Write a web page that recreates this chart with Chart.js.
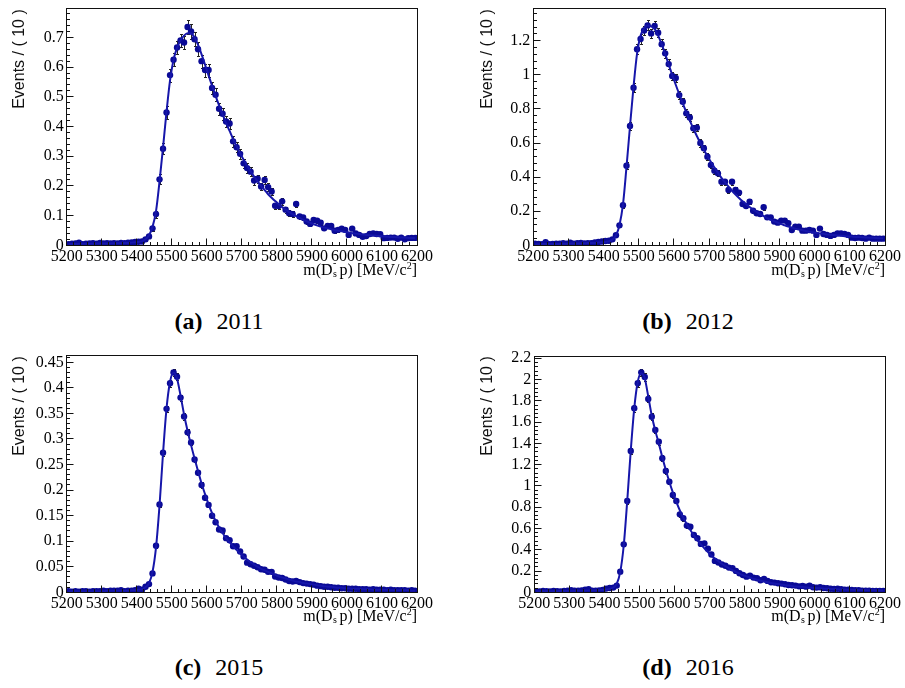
<!DOCTYPE html>
<html>
<head>
<meta charset="utf-8">
<script src="https://cdn.jsdelivr.net/npm/chart.js@4.4.1/dist/chart.umd.min.js"></script>
<style>
  body { margin: 0; background: #fff; }
  #page { position: relative; width: 905px; height: 688px; overflow: hidden; background: #fff; }
  canvas { position: absolute; }
  .ytitle { position: absolute; font: 16px "Liberation Sans", Arial, sans-serif; color: #111; white-space: nowrap;
            transform: translate(-50%, -50%) rotate(-90deg); }
  .xtitle { position: absolute; font: 16px "Liberation Serif", "Times New Roman", serif; line-height: 16px; color: #000;
            white-space: nowrap; transform: translateX(-100%); }
  .ss { position: relative; display: inline-block; width: 7px; height: 16px; }
  .ss span { position: absolute; left: 0.5px; font-size: 10px; line-height: 10px; }
  .ss .up { top: -1px; }
  .ss .dn { top: 10px; }
  .xtitle sup { font-size: 10px; vertical-align: 6px; line-height: 0; }
  .caption { position: absolute; font: 24px "Liberation Serif", "Times New Roman", serif; color: #000; white-space: nowrap;
             transform: translate(-50%, -50%); }
  .caption b { margin-right: 14px; }
</style>
</head>
<body>
<div id="page">
  <canvas id="cA" width="450" height="280" style="left:0;top:0"></canvas>
  <canvas id="cB" width="437" height="280" style="left:468px;top:0"></canvas>
  <canvas id="cC" width="450" height="280" style="left:0;top:345px"></canvas>
  <canvas id="cD" width="437" height="280" style="left:468px;top:345px"></canvas>

  <div class="ytitle" style="left:19px;top:59px">Events / ( 10 )</div>
  <div class="ytitle" style="left:487px;top:59px">Events / ( 10 )</div>
  <div class="ytitle" style="left:19px;top:406px">Events / ( 10 )</div>
  <div class="ytitle" style="left:487px;top:406px">Events / ( 10 )</div>

  <div class="xtitle" style="left:417px;top:259px">m(D<span class="ss"><span class="up">-</span><span class="dn">s</span></span>p) [MeV/c<sup>2</sup>]</div>
  <div class="xtitle" style="left:885px;top:259px">m(D<span class="ss"><span class="up">-</span><span class="dn">s</span></span>p) [MeV/c<sup>2</sup>]</div>
  <div class="xtitle" style="left:417px;top:605px">m(D<span class="ss"><span class="up">-</span><span class="dn">s</span></span>p) [MeV/c<sup>2</sup>]</div>
  <div class="xtitle" style="left:885px;top:605px">m(D<span class="ss"><span class="up">-</span><span class="dn">s</span></span>p) [MeV/c<sup>2</sup>]</div>

  <div class="caption" style="left:219px;top:321px"><b>(a)</b>2011</div>
  <div class="caption" style="left:688px;top:321px"><b>(b)</b>2012</div>
  <div class="caption" style="left:219px;top:667px"><b>(c)</b>2015</div>
  <div class="caption" style="left:688px;top:667px"><b>(d)</b>2016</div>
</div>

<script>
// bin centres, 10 MeV bins from 5200 to 6200
const binCenters = [
  5205,5215,5225,5235,5245,5255,5265,5275,5285,5295,
  5305,5315,5325,5335,5345,5355,5365,5375,5385,5395,
  5405,5415,5425,5435,5445,5455,5465,5475,5485,5495,
  5505,5515,5525,5535,5545,5555,5565,5575,5585,5595,
  5605,5615,5625,5635,5645,5655,5665,5675,5685,5695,
  5705,5715,5725,5735,5745,5755,5765,5775,5785,5795,
  5805,5815,5825,5835,5845,5855,5865,5875,5885,5895,
  5905,5915,5925,5935,5945,5955,5965,5975,5985,5995,
  6005,6015,6025,6035,6045,6055,6065,6075,6085,6095,
  6105,6115,6125,6135,6145,6155,6165,6175,6185,6195
];
const xTicks = [5200,5300,5400,5500,5600,5700,5800,5900,6000,6100,6200];

// (a) 2011
const data2011 = [
  0.004,0.005,0.006,0.009,0.004,0.005,0.006,0.007,0.005,0.008,
  0.006,0.007,0.006,0.007,0.006,0.008,0.007,0.009,0.010,0.011,
  0.012,0.013,0.020,0.030,0.057,0.105,0.222,0.325,0.447,0.573,
  0.625,0.666,0.690,0.683,0.735,0.720,0.694,0.660,0.620,0.590,
  0.590,0.530,0.507,0.460,0.443,0.417,0.410,0.350,0.330,0.308,
  0.276,0.260,0.248,0.218,0.224,0.198,0.220,0.196,0.181,0.133,
  0.132,0.148,0.120,0.108,0.105,0.139,0.097,0.094,0.080,0.072,
  0.085,0.083,0.076,0.057,0.065,0.065,0.049,0.052,0.056,0.052,
  0.035,0.056,0.040,0.035,0.029,0.031,0.038,0.040,0.038,0.037,
  0.024,0.025,0.026,0.026,0.022,0.026,0.020,0.024,0.025,0.025
];
const err2011 = [
  0.003,0.003,0.003,0.003,0.003,0.003,0.003,0.003,0.003,0.003,
  0.003,0.003,0.003,0.003,0.003,0.003,0.003,0.003,0.003,0.003,
  0.004,0.004,0.005,0.007,0.009,0.012,0.017,0.019,0.021,0.022,
  0.022,0.023,0.023,0.023,0.024,0.024,0.023,0.023,0.022,0.022,
  0.022,0.021,0.021,0.020,0.020,0.019,0.019,0.018,0.017,0.017,
  0.016,0.016,0.015,0.014,0.014,0.013,0.014,0.013,0.013,0.011,
  0.011,0.012,0.010,0.010,0.010,0.011,0.009,0.009,0.008,0.008,
  0.008,0.008,0.008,0.007,0.007,0.007,0.006,0.006,0.006,0.006,
  0.005,0.005,0.005,0.005,0.005,0.005,0.005,0.005,0.005,0.005,
  0.005,0.005,0.005,0.005,0.005,0.005,0.005,0.005,0.005,0.005
];
const fit2011 = [
  0.004,0.004,0.004,0.005,0.005,0.005,0.005,0.005,0.006,0.006,
  0.006,0.006,0.006,0.007,0.007,0.007,0.008,0.008,0.009,0.010,
  0.011,0.014,0.020,0.034,0.062,0.115,0.215,0.330,0.450,0.555,
  0.625,0.665,0.690,0.706,0.714,0.713,0.700,0.675,0.643,0.608,
  0.572,0.537,0.503,0.471,0.441,0.412,0.385,0.358,0.333,0.310,
  0.288,0.268,0.249,0.231,0.215,0.200,0.186,0.172,0.160,0.149,
  0.139,0.129,0.120,0.112,0.105,0.098,0.092,0.086,0.081,0.076,
  0.071,0.067,0.063,0.060,0.057,0.054,0.051,0.049,0.047,0.045,
  0.043,0.041,0.039,0.038,0.036,0.035,0.034,0.033,0.032,0.031,
  0.030,0.029,0.028,0.028,0.027,0.026,0.026,0.025,0.025,0.024
];
const yTicks2011 = [0,0.1,0.2,0.3,0.4,0.5,0.6,0.7];
const yLabels2011 = ['0','0.1','0.2','0.3','0.4','0.5','0.6','0.7'];

// (b) 2012
const data2012 = [
  0.010,0.008,0.006,0.018,0.007,0.008,0.010,0.009,0.012,0.010,
  0.015,0.010,0.012,0.014,0.011,0.013,0.012,0.016,0.020,0.022,
  0.025,0.027,0.035,0.059,0.117,0.235,0.467,0.700,0.924,1.150,
  1.210,1.260,1.290,1.243,1.286,1.247,1.180,1.126,1.063,0.993,
  0.981,0.881,0.842,0.774,0.750,0.686,0.690,0.600,0.569,0.520,
  0.471,0.438,0.422,0.373,0.373,0.324,0.373,0.324,0.309,0.242,
  0.230,0.256,0.203,0.188,0.184,0.223,0.164,0.164,0.139,0.133,
  0.145,0.145,0.129,0.090,0.109,0.109,0.086,0.086,0.090,0.086,
  0.061,0.098,0.066,0.061,0.055,0.061,0.070,0.070,0.066,0.061,
  0.045,0.043,0.045,0.043,0.039,0.045,0.039,0.039,0.039,0.039
];
const err2012 = [
  0.004,0.004,0.004,0.004,0.004,0.004,0.004,0.004,0.004,0.004,
  0.004,0.004,0.004,0.004,0.004,0.004,0.004,0.004,0.004,0.004,
  0.005,0.005,0.007,0.009,0.012,0.016,0.021,0.024,0.026,0.028,
  0.028,0.029,0.029,0.028,0.029,0.028,0.028,0.027,0.027,0.026,
  0.026,0.025,0.024,0.024,0.023,0.022,0.022,0.021,0.020,0.019,
  0.019,0.018,0.018,0.017,0.017,0.016,0.017,0.016,0.015,0.014,
  0.014,0.014,0.013,0.012,0.012,0.013,0.011,0.011,0.010,0.010,
  0.010,0.010,0.009,0.008,0.009,0.009,0.008,0.008,0.008,0.008,
  0.007,0.007,0.007,0.007,0.007,0.007,0.007,0.007,0.007,0.007,
  0.007,0.007,0.007,0.007,0.007,0.007,0.007,0.007,0.007,0.007
];
const fit2012 = [
  0.006,0.006,0.007,0.007,0.007,0.008,0.008,0.008,0.009,0.009,
  0.010,0.010,0.011,0.011,0.012,0.013,0.013,0.014,0.016,0.018,
  0.020,0.024,0.033,0.058,0.118,0.240,0.460,0.700,0.930,1.125,
  1.230,1.275,1.290,1.285,1.268,1.230,1.180,1.122,1.060,1.000,
  0.942,0.886,0.832,0.780,0.731,0.685,0.641,0.600,0.561,0.524,
  0.489,0.456,0.425,0.396,0.369,0.344,0.320,0.298,0.278,0.259,
  0.241,0.225,0.210,0.196,0.183,0.171,0.160,0.150,0.141,0.132,
  0.124,0.117,0.110,0.104,0.098,0.093,0.088,0.084,0.080,0.076,
  0.073,0.070,0.067,0.064,0.062,0.060,0.058,0.056,0.054,0.052,
  0.051,0.049,0.048,0.047,0.046,0.045,0.044,0.043,0.042,0.041
];
const yTicks2012 = [0,0.2,0.4,0.6,0.8,1,1.2];
const yLabels2012 = ['0','0.2','0.4','0.6','0.8','1','1.2'];

// (c) 2015
const data2015 = [
  0.002,0.001,0.002,0.001,0.002,0.002,0.001,0.002,0.002,0.002,
  0.003,0.002,0.003,0.003,0.003,0.004,0.002,0.003,0.003,0.004,
  0.007,0.005,0.011,0.016,0.037,0.091,0.172,0.273,0.359,0.409,
  0.430,0.422,0.381,0.344,0.313,0.293,0.260,0.234,0.210,0.185,
  0.171,0.150,0.137,0.123,0.121,0.106,0.102,0.090,0.090,0.080,
  0.070,0.058,0.055,0.052,0.049,0.045,0.044,0.040,0.040,0.031,
  0.029,0.028,0.025,0.022,0.021,0.022,0.020,0.018,0.017,0.016,
  0.015,0.013,0.012,0.011,0.011,0.010,0.009,0.009,0.008,0.008,
  0.007,0.007,0.007,0.006,0.006,0.006,0.005,0.006,0.005,0.005,
  0.005,0.004,0.005,0.004,0.004,0.004,0.004,0.003,0.004,0.003
];
const err2015 = [
  0.001,0.001,0.001,0.001,0.001,0.001,0.001,0.001,0.001,0.001,
  0.001,0.001,0.001,0.001,0.001,0.001,0.001,0.001,0.001,0.001,
  0.001,0.001,0.002,0.002,0.003,0.004,0.005,0.006,0.006,0.007,
  0.007,0.007,0.006,0.006,0.006,0.005,0.005,0.005,0.005,0.004,
  0.004,0.004,0.004,0.004,0.004,0.003,0.003,0.003,0.003,0.003,
  0.003,0.003,0.002,0.002,0.002,0.002,0.002,0.002,0.002,0.002,
  0.002,0.002,0.002,0.002,0.002,0.002,0.002,0.002,0.002,0.002,
  0.001,0.001,0.001,0.001,0.001,0.001,0.001,0.001,0.001,0.001,
  0.001,0.001,0.001,0.001,0.001,0.001,0.001,0.001,0.001,0.001,
  0.001,0.001,0.001,0.001,0.001,0.001,0.001,0.001,0.001,0.001
];
const fit2015 = [
  0.002,0.002,0.002,0.002,0.002,0.002,0.002,0.002,0.002,0.002,
  0.002,0.003,0.003,0.003,0.003,0.003,0.003,0.003,0.004,0.004,
  0.005,0.006,0.010,0.018,0.040,0.088,0.170,0.272,0.360,0.412,
  0.430,0.418,0.385,0.348,0.316,0.288,0.262,0.237,0.213,0.192,
  0.172,0.155,0.140,0.127,0.116,0.106,0.098,0.090,0.083,0.076,
  0.070,0.064,0.059,0.054,0.050,0.046,0.043,0.040,0.037,0.034,
  0.031,0.029,0.027,0.025,0.023,0.021,0.020,0.018,0.017,0.016,
  0.015,0.014,0.013,0.012,0.011,0.011,0.010,0.009,0.009,0.008,
  0.008,0.007,0.007,0.007,0.006,0.006,0.006,0.005,0.005,0.005,
  0.005,0.005,0.004,0.004,0.004,0.004,0.004,0.004,0.003,0.003
];
const yTicks2015 = [0,0.05,0.1,0.15,0.2,0.25,0.3,0.35,0.4,0.45];
const yLabels2015 = ['0','0.05','0.1','0.15','0.2','0.25','0.3','0.35','0.4','0.45'];

// (d) 2016
const data2016 = [
  0.010,0.008,0.012,0.010,0.008,0.012,0.010,0.008,0.012,0.015,
  0.020,0.014,0.016,0.018,0.025,0.028,0.015,0.016,0.018,0.022,
  0.035,0.040,0.044,0.063,0.194,0.451,0.859,1.329,1.730,1.965,
  2.068,2.024,1.818,1.650,1.526,1.416,1.260,1.141,1.040,0.915,
  0.859,0.733,0.696,0.627,0.617,0.539,0.508,0.455,0.460,0.410,
  0.355,0.295,0.280,0.262,0.250,0.232,0.226,0.201,0.179,0.163,
  0.147,0.157,0.138,0.132,0.113,0.125,0.107,0.094,0.091,0.085,
  0.082,0.075,0.069,0.066,0.063,0.056,0.060,0.053,0.063,0.047,
  0.044,0.047,0.041,0.038,0.034,0.031,0.034,0.028,0.025,0.025,
  0.022,0.019,0.019,0.016,0.016,0.016,0.013,0.013,0.013,0.013
];
const err2016 = [
  0.004,0.004,0.004,0.004,0.004,0.004,0.004,0.004,0.004,0.004,
  0.004,0.004,0.004,0.004,0.004,0.004,0.004,0.004,0.004,0.004,
  0.005,0.006,0.006,0.008,0.013,0.019,0.026,0.031,0.034,0.035,
  0.036,0.035,0.033,0.032,0.031,0.029,0.028,0.026,0.025,0.024,
  0.023,0.021,0.021,0.020,0.019,0.018,0.017,0.016,0.016,0.015,
  0.014,0.013,0.012,0.012,0.012,0.011,0.011,0.010,0.010,0.009,
  0.009,0.009,0.008,0.008,0.008,0.008,0.007,0.007,0.007,0.007,
  0.006,0.006,0.006,0.006,0.006,0.006,0.006,0.006,0.006,0.006,
  0.005,0.005,0.005,0.005,0.005,0.005,0.005,0.005,0.005,0.005,
  0.005,0.005,0.005,0.005,0.005,0.005,0.005,0.005,0.005,0.005
];
const fit2016 = [
  0.010,0.010,0.010,0.010,0.011,0.011,0.011,0.012,0.012,0.012,
  0.013,0.013,0.014,0.014,0.015,0.016,0.017,0.018,0.020,0.022,
  0.026,0.032,0.045,0.080,0.190,0.440,0.860,1.330,1.730,1.980,
  2.060,2.010,1.840,1.660,1.520,1.400,1.270,1.150,1.040,0.940,
  0.850,0.770,0.700,0.640,0.585,0.535,0.490,0.450,0.413,0.378,
  0.347,0.318,0.292,0.268,0.246,0.226,0.208,0.191,0.176,0.162,
  0.150,0.138,0.128,0.118,0.110,0.102,0.095,0.088,0.082,0.077,
  0.072,0.067,0.063,0.059,0.055,0.052,0.049,0.046,0.043,0.041,
  0.039,0.037,0.035,0.033,0.031,0.030,0.028,0.027,0.026,0.025,
  0.024,0.023,0.022,0.021,0.020,0.020,0.019,0.018,0.018,0.017
];
const yTicks2016 = [0,0.2,0.4,0.6,0.8,1,1.2,1.4,1.6,1.8,2,2.2];
const yLabels2016 = ['0','0.2','0.4','0.6','0.8','1','1.2','1.4','1.6','1.8','2','2.2'];

const markerColor = '#0a0a96';
const curveColor = '#1616aa';
const serif = "'Liberation Serif', 'Times New Roman', serif";

// ROOT style: frame box plus inward tick marks
const frameTicks = {
  id: 'frameTicks',
  afterDraw(chart, args, opts) {
    const {ctx, chartArea: a, scales: {x, y}} = chart;
    const L = Math.floor(a.left) + 0.5, R = Math.floor(a.right) + 0.5;
    const T = Math.floor(a.top) + 0.5, B = Math.floor(a.bottom) + 0.5;
    ctx.save();
    ctx.strokeStyle = '#111';
    ctx.lineWidth = 1;
    ctx.strokeRect(L, T, R - L, B - T);
    ctx.beginPath();
    for (let k = 0; k <= Math.round((x.max - x.min) / opts.xMinor); k++) {
      const v = x.min + k * opts.xMinor;
      const major = Math.abs(v / opts.xMajor - Math.round(v / opts.xMajor)) < 1e-6;
      const px = Math.floor(x.getPixelForValue(v)) + 0.5;
      ctx.moveTo(px, B);
      ctx.lineTo(px, B - (major ? 7 : 3.5));
    }
    for (let k = 0; k * opts.yMinor <= y.max + 1e-9; k++) {
      const v = k * opts.yMinor;
      const major = Math.abs(v / opts.yMajor - Math.round(v / opts.yMajor)) < 1e-6;
      const py = Math.floor(y.getPixelForValue(v)) + 0.5;
      ctx.moveTo(L, py);
      ctx.lineTo(L + (major ? 7 : 3.5), py);
    }
    ctx.stroke();
    ctx.restore();
  }
};

const errorBars = {
  id: 'errorBars',
  beforeDatasetsDraw(chart) {
    const {ctx, chartArea: a, scales: {x, y}} = chart;
    ctx.save();
    ctx.beginPath();
    ctx.rect(a.left, a.top, a.right - a.left, a.bottom - a.top);
    ctx.clip();
    ctx.strokeStyle = '#222';
    ctx.lineWidth = 1;
    chart.data.datasets.forEach(ds => {
      if (!ds.errors) return;
      ctx.beginPath();
      ds.data.forEach((pt, i) => {
        const px = Math.round(x.getPixelForValue(pt.x)) + 0.5;
        const lo = Math.round(y.getPixelForValue(pt.y - ds.errors[i])) + 0.5;
        const hi = Math.round(y.getPixelForValue(pt.y + ds.errors[i])) + 0.5;
        ctx.moveTo(px, lo); ctx.lineTo(px, hi);
        ctx.moveTo(px - 1.5, lo); ctx.lineTo(px + 1.5, lo);
        ctx.moveTo(px - 1.5, hi); ctx.lineTo(px + 1.5, hi);
      });
      ctx.stroke();
    });
    ctx.restore();
  }
};

function drawPanel(id, area, size, values, errors, fit, yMax, yTicks, yLabels, yMajor, yMinor) {
  new Chart(document.getElementById(id), {
    type: 'scatter',
    data: {
      datasets: [
        {
          type: 'line',
          data: binCenters.map((x, i) => ({x: x, y: fit[i]})),
          borderColor: curveColor,
          borderWidth: 2,
          pointRadius: 0,
          cubicInterpolationMode: 'monotone',
          fill: false,
          order: 0
        },
        {
          type: 'scatter',
          data: binCenters.map((x, i) => ({x: x, y: values[i]})),
          errors: errors,
          backgroundColor: markerColor,
          borderWidth: 0,
          pointRadius: 3.2,
          order: 1
        }
      ]
    },
    options: {
      responsive: false,
      animation: false,
      devicePixelRatio: 1,
      layout: {padding: {left: 0, top: area.top, right: size.w - area.right, bottom: 0}},
      plugins: {
        legend: {display: false},
        tooltip: {enabled: false},
        frameTicks: {xMajor: 100, xMinor: 20, yMajor: yMajor, yMinor: yMinor}
      },
      scales: {
        x: {
          type: 'linear', min: 5200, max: 6200,
          afterBuildTicks: s => { s.ticks = xTicks.map(v => ({value: v})); },
          afterFit: s => { s.height = size.h - area.bottom; s.paddingLeft = 0; s.paddingRight = 0; },
          ticks: {
            callback: v => String(v), autoSkip: false, maxRotation: 0, minRotation: 0,
            font: {family: serif, size: 16}, color: '#000', padding: 2
          },
          grid: {display: false, drawTicks: false},
          border: {display: false}
        },
        y: {
          type: 'linear', min: 0, max: yMax,
          afterBuildTicks: s => { s.ticks = yTicks.map(v => ({value: v})); },
          afterFit: s => { s.width = area.left; s.paddingTop = 0; s.paddingBottom = 0; },
          ticks: {
            callback: (v, i) => yLabels[i], autoSkip: false,
            font: {family: serif, size: 16}, color: '#000', padding: 3
          },
          grid: {display: false, drawTicks: false},
          border: {display: false}
        }
      }
    },
    plugins: [errorBars, frameTicks]
  });
}

drawPanel('cA', {left: 66.7, top: 8, right: 417, bottom: 245.3}, {w: 450, h: 280},
  data2011, err2011, fit2011, 0.799, yTicks2011, yLabels2011, 0.1, 0.02);
drawPanel('cB', {left: 65.3, top: 8, right: 417, bottom: 245.3}, {w: 437, h: 280},
  data2012, err2012, fit2012, 1.392, yTicks2012, yLabels2012, 0.2, 0.04);
drawPanel('cC', {left: 66.7, top: 10.7, right: 417, bottom: 247.3}, {w: 450, h: 280},
  data2015, err2015, fit2015, 0.463, yTicks2015, yLabels2015, 0.05, 0.01);
drawPanel('cD', {left: 66.3, top: 11.7, right: 417, bottom: 247.3}, {w: 437, h: 280},
  data2016, err2016, fit2016, 2.215, yTicks2016, yLabels2016, 0.2, 0.04);
</script>
</body>
</html>
